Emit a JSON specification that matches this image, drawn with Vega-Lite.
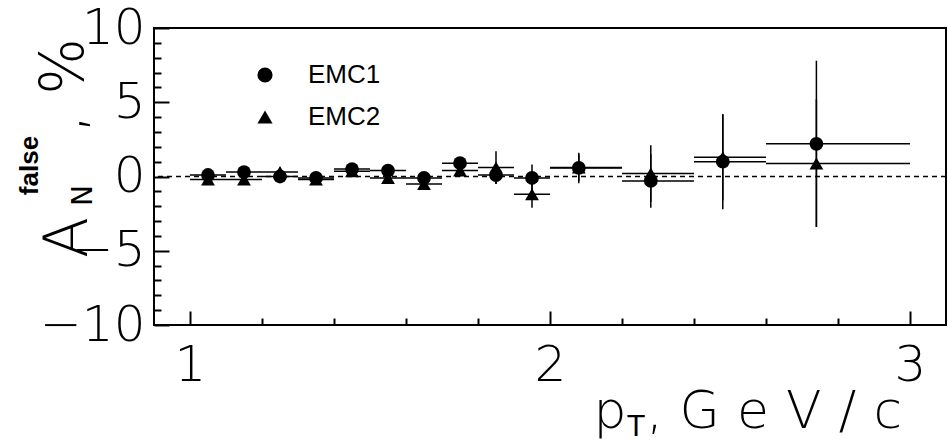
{
  "$schema": "https://vega.github.io/schema/vega-lite/v6.json",
  "width": 792,
  "height": 297,
  "autosize": "none",
  "padding": {"left": 154, "top": 28, "right": 2, "bottom": 116},
  "background": "white",
  "config": {
    "view": {"stroke": "black", "strokeWidth": 2},
    "axis": {
      "grid": false,
      "domain": false,
      "tickColor": "black",
      "tickWidth": 2,
      "labelColor": "black",
      "labelFont": "DejaVu Sans",
      "labelFontWeight": 200,
      "titleColor": "black",
      "titleFont": "DejaVu Sans",
      "titleFontWeight": 200
    }
  },
  "data": {
    "values": [
      {"series": "EMC1", "pt": 1.05, "lo": 1.0, "hi": 1.1, "a": 0.1, "ylo": -0.2, "yhi": 0.4},
      {"series": "EMC1", "pt": 1.15, "lo": 1.1, "hi": 1.2, "a": 0.3, "ylo": 0.0, "yhi": 0.6},
      {"series": "EMC1", "pt": 1.25, "lo": 1.2, "hi": 1.3, "a": 0.0, "ylo": -0.3, "yhi": 0.3},
      {"series": "EMC1", "pt": 1.35, "lo": 1.3, "hi": 1.4, "a": -0.1, "ylo": -0.4, "yhi": 0.2},
      {"series": "EMC1", "pt": 1.45, "lo": 1.4, "hi": 1.5, "a": 0.5, "ylo": 0.2, "yhi": 0.8},
      {"series": "EMC1", "pt": 1.55, "lo": 1.5, "hi": 1.6, "a": 0.4, "ylo": 0.1, "yhi": 0.7},
      {"series": "EMC1", "pt": 1.65, "lo": 1.6, "hi": 1.7, "a": -0.1, "ylo": -0.45, "yhi": 0.25},
      {"series": "EMC1", "pt": 1.75, "lo": 1.7, "hi": 1.8, "a": 0.9, "ylo": 0.5, "yhi": 1.3},
      {"series": "EMC1", "pt": 1.85, "lo": 1.8, "hi": 1.9, "a": 0.1, "ylo": -0.5, "yhi": 0.7},
      {"series": "EMC1", "pt": 1.95, "lo": 1.9, "hi": 2.0, "a": -0.1, "ylo": -0.95, "yhi": 0.8},
      {"series": "EMC1", "pt": 2.08, "lo": 2.0, "hi": 2.2, "a": 0.58, "ylo": -0.45, "yhi": 1.6},
      {"series": "EMC1", "pt": 2.28, "lo": 2.2, "hi": 2.4, "a": -0.3, "ylo": -2.1, "yhi": 1.5},
      {"series": "EMC1", "pt": 2.48, "lo": 2.4, "hi": 2.6, "a": 1.0, "ylo": -2.2, "yhi": 4.2},
      {"series": "EMC1", "pt": 2.74, "lo": 2.6, "hi": 3.0, "a": 2.2, "ylo": -3.4, "yhi": 7.8},
      {"series": "EMC2", "pt": 1.05, "lo": 1.0, "hi": 1.1, "a": -0.2, "ylo": -0.5, "yhi": 0.1},
      {"series": "EMC2", "pt": 1.15, "lo": 1.1, "hi": 1.2, "a": -0.2, "ylo": -0.5, "yhi": 0.1},
      {"series": "EMC2", "pt": 1.25, "lo": 1.2, "hi": 1.3, "a": 0.3, "ylo": 0.0, "yhi": 0.6},
      {"series": "EMC2", "pt": 1.35, "lo": 1.3, "hi": 1.4, "a": -0.2, "ylo": -0.5, "yhi": 0.1},
      {"series": "EMC2", "pt": 1.45, "lo": 1.4, "hi": 1.5, "a": 0.35, "ylo": 0.05, "yhi": 0.65},
      {"series": "EMC2", "pt": 1.55, "lo": 1.5, "hi": 1.6, "a": -0.1, "ylo": -0.4, "yhi": 0.2},
      {"series": "EMC2", "pt": 1.65, "lo": 1.6, "hi": 1.7, "a": -0.5, "ylo": -0.85, "yhi": -0.15},
      {"series": "EMC2", "pt": 1.75, "lo": 1.7, "hi": 1.8, "a": 0.4, "ylo": 0.0, "yhi": 0.8},
      {"series": "EMC2", "pt": 1.85, "lo": 1.8, "hi": 1.9, "a": 0.6, "ylo": -0.5, "yhi": 1.7},
      {"series": "EMC2", "pt": 1.95, "lo": 1.9, "hi": 2.0, "a": -1.2, "ylo": -2.1, "yhi": -0.3},
      {"series": "EMC2", "pt": 2.08, "lo": 2.0, "hi": 2.2, "a": 0.6, "ylo": -0.3, "yhi": 1.5},
      {"series": "EMC2", "pt": 2.28, "lo": 2.2, "hi": 2.4, "a": 0.2, "ylo": -1.7, "yhi": 2.1},
      {"series": "EMC2", "pt": 2.48, "lo": 2.4, "hi": 2.6, "a": 1.3, "ylo": -1.6, "yhi": 4.2},
      {"series": "EMC2", "pt": 2.74, "lo": 2.6, "hi": 3.0, "a": 0.87, "ylo": -3.4, "yhi": 5.2}
    ]
  },
  "layer": [
    {
      "data": {"values": [{}]},
      "mark": {"type": "rule", "strokeDash": [5, 4], "strokeWidth": 1.5, "color": "black"},
      "encoding": {
        "y": {
          "datum": 0, "type": "quantitative",
          "scale": {"domain": [-10, 10], "nice": false, "zero": false},
          "axis": {"orient": "left", "values": [-10, -5, 0, 5, 10], "tickSize": -15, "labelPadding": 24, "labelFontSize": 50, "title": null}
        }
      }
    },
    {
      "mark": {"type": "rule", "strokeWidth": 1.5, "color": "black"},
      "encoding": {
        "x": {
          "field": "lo", "type": "quantitative",
          "scale": {"domain": [0.9, 3.1], "nice": false, "zero": false},
          "axis": {"orient": "bottom", "values": [1, 2, 3], "tickSize": -14, "labelPadding": 29, "labelFontSize": 50, "labelFlush": false, "title": null}
        },
        "x2": {"field": "hi"},
        "y": {
          "field": "a", "type": "quantitative",
          "scale": {"domain": [-10, 10], "nice": false, "zero": false},
          "axis": {"orient": "left", "values": [-9, -8, -7, -6, -4, -3, -2, -1, 1, 2, 3, 4, 6, 7, 8, 9], "tickSize": -7, "labels": false, "title": null}
        }
      }
    },
    {
      "mark": {"type": "rule", "strokeWidth": 1.5, "color": "black"},
      "encoding": {
        "x": {
          "field": "pt", "type": "quantitative",
          "scale": {"domain": [0.9, 3.1], "nice": false, "zero": false},
          "axis": {"orient": "bottom", "values": [1.2, 1.4, 1.6, 1.8, 2.2, 2.4, 2.6, 2.8], "tickSize": -7, "labels": false, "title": null}
        },
        "y": {
          "field": "ylo", "type": "quantitative",
          "scale": {"domain": [-10, 10], "nice": false, "zero": false},
          "axis": {"orient": "left", "ticks": false, "labels": false, "title": "A", "titleColor": "black", "titleFontSize": 60, "titleX": -68, "titleY": 209, "titleAngle": -90, "titleAlign": "center", "titleBaseline": "alphabetic"}
        },
        "y2": {"field": "yhi"}
      }
    },
    {
      "mark": {"type": "point", "filled": true, "color": "black", "opacity": 1, "size": 190},
      "encoding": {
        "x": {
          "field": "pt", "type": "quantitative",
          "scale": {"domain": [0.9, 3.1], "nice": false, "zero": false},
          "axis": {"orient": "bottom", "ticks": false, "labels": false, "title": "p", "titleColor": "black", "titleFontSize": 52, "titleX": 439, "titleY": 102, "titleAlign": "left", "titleBaseline": "alphabetic"}
        },
        "y": {
          "field": "a", "type": "quantitative",
          "scale": {"domain": [-10, 10], "nice": false, "zero": false},
          "axis": {"orient": "left", "ticks": false, "labels": false, "title": "N", "titleColor": "black", "titleFontSize": 28, "titleFontWeight": 400, "titleX": -63, "titleY": 167, "titleAngle": -90, "titleAlign": "center", "titleBaseline": "alphabetic"}
        },
        "shape": {
          "field": "series", "type": "nominal",
          "scale": {"domain": ["EMC1", "EMC2"], "range": ["circle", "triangle-up"]},
          "legend": {
            "orient": "none", "legendX": 98, "legendY": 34, "title": null,
            "symbolSize": 230, "symbolFillColor": "black", "symbolStrokeColor": "black", "symbolStrokeWidth": 0,
            "labelFontSize": 26, "labelFont": "Liberation Sans", "labelColor": "black", "labelOffset": 30, "rowPadding": 16
          }
        }
      }
    },
    {
      "mark": {"type": "point", "opacity": 0},
      "encoding": {
        "x": {
          "field": "pt", "type": "quantitative",
          "scale": {"domain": [0.9, 3.1], "nice": false, "zero": false},
          "axis": {"orient": "bottom", "ticks": false, "labels": false, "title": "T", "titleColor": "black", "titleFontSize": 28, "titleFontWeight": 400, "titleX": 473, "titleY": 110, "titleAlign": "left", "titleBaseline": "alphabetic"}
        },
        "y": {
          "field": "a", "type": "quantitative",
          "scale": {"domain": [-10, 10], "nice": false, "zero": false},
          "axis": {"orient": "left", "ticks": false, "labels": false, "title": "false", "titleColor": "black", "titleFontSize": 26, "titleFontWeight": "bold", "titleFont": "Liberation Sans", "titleX": -117, "titleY": 137, "titleAngle": -90, "titleAlign": "center", "titleBaseline": "alphabetic"}
        }
      }
    },
    {
      "mark": {"type": "point", "opacity": 0},
      "encoding": {
        "x": {
          "field": "pt", "type": "quantitative",
          "scale": {"domain": [0.9, 3.1], "nice": false, "zero": false},
          "axis": {"orient": "bottom", "ticks": false, "labels": false, "title": ", G\u2004e\u2004V\u2004/\u2004c", "titleColor": "black", "titleFontSize": 52, "titleX": 492, "titleY": 102, "titleAlign": "left", "titleBaseline": "alphabetic"}
        },
        "y": {
          "field": "a", "type": "quantitative",
          "scale": {"domain": [-10, 10], "nice": false, "zero": false},
          "axis": {"orient": "left", "ticks": false, "labels": false, "title": ", %", "titleColor": "black", "titleFontSize": 60, "titleX": -72, "titleY": 57, "titleAngle": -90, "titleAlign": "center", "titleBaseline": "alphabetic"}
        }
      }
    }
  ],
  "resolve": {"axis": {"x": "independent", "y": "independent"}}
}
